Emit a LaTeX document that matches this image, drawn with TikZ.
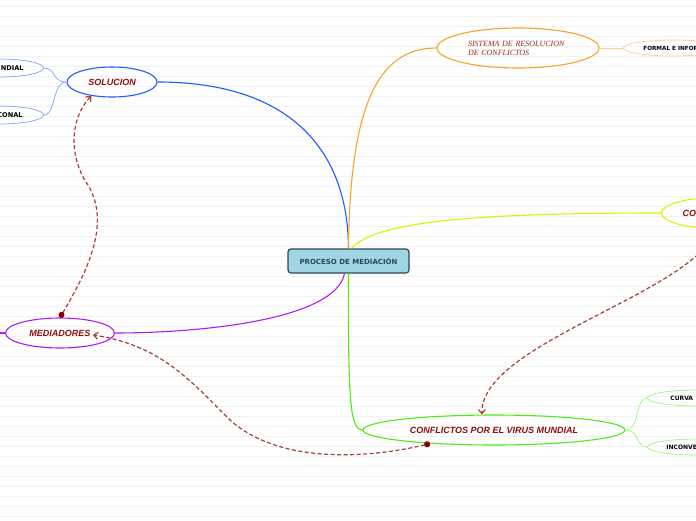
\documentclass[tikz,border=0pt]{standalone}
\usepackage{fontspec}
\setmainfont{Liberation Sans}
\newfontfamily\dejavu{DejaVu Sans}
\newfontfamily\timesit{Liberation Serif}
\usetikzlibrary{shapes.geometric,arrows.meta,calc}
\definecolor{cblue}{RGB}{30,90,255}
\definecolor{corange}{RGB}{245,165,40}
\definecolor{cyellow}{RGB}{214,245,0}
\definecolor{cgreen}{RGB}{80,235,20}
\definecolor{cpurple}{RGB}{170,30,250}
\definecolor{lblue}{RGB}{130,160,255}
\definecolor{lorange}{RGB}{250,210,140}
\definecolor{lgreen}{RGB}{150,250,120}
\definecolor{dred}{RGB}{140,15,15}
\definecolor{sred}{RGB}{150,40,40}
\definecolor{dashc}{RGB}{170,60,60}
\definecolor{dotred}{RGB}{135,0,0}
\definecolor{mainfill}{RGB}{160,214,228}
\definecolor{maindraw}{RGB}{45,70,85}
\definecolor{gridc}{RGB}{242,242,242}
\tikzset{
  mainbox/.style={rectangle, rounded corners=3pt, fill=mainfill, draw=maindraw, line width=1.2pt,
    minimum width=121pt, minimum height=24pt, inner sep=0pt,
    font=\dejavu\bfseries\fontsize{7}{8}\selectfont, text=maindraw},
  mainell/.style={ellipse, draw, line width=1.1pt, inner sep=0pt,
    font=\fontsize{9}{10}\selectfont\bfseries\itshape, text=dred},
  leafell/.style={ellipse, draw, line width=0.7pt, inner sep=0pt, minimum height=16pt,
    font=\dejavu\bfseries\fontsize{6}{7}\selectfont, text=black},
  leftleaf/.style={leafell, draw=lblue, minimum width=90pt, minimum height=18pt, anchor=east,
    font=\dejavu\bfseries\fontsize{6.6}{7}\selectfont},
  branch/.style={line width=1.1pt},
  twig/.style={line width=0.7pt},
  relation/.style={draw=dashc, line width=1.2pt, dash pattern=on 4pt off 2.5pt,
    arrows={Circle[length=6pt,color=dotred]-Straight Barb[length=4pt,width=7pt]}}
}
\begin{document}
\begin{tikzpicture}[x=1pt,y=-1pt]
\useasboundingbox (0,0) rectangle (696,520);
\fill[white] (0,0) rectangle (696,520);
\foreach \yy in {6,16,...,516} \draw[gridc, line width=0.6pt] (0,\yy) -- (696,\yy);

\node[mainbox] (main) at (348.5,261) {PROCESO DE MEDIACIÓN};
\node[mainell, draw=cblue, minimum width=90pt, minimum height=30pt] (sol) at (112,82) {SOLUCION};
\node[mainell, draw=cpurple, minimum width=109pt, minimum height=30pt] (med) at (60,333) {MEDIADORES};
\node[mainell, draw=corange, minimum width=162pt, minimum height=40pt, text=sred,
  font=\timesit\itshape\fontsize{8}{9}\selectfont, align=left, text width=100pt] (sis) at (518,48) {SISTEMA DE RESOLUCION\\DE CONFLICTOS};
\node[mainell, draw=cyellow, minimum width=110pt, minimum height=31pt, anchor=west] (cov) at (661,213) {\makebox[68pt][l]{CO}};
\node[mainell, draw=cgreen, minimum width=262pt, minimum height=30pt] (conf) at (494,430) {CONFLICTOS POR EL VIRUS MUNDIAL};

\node[leafell, draw=lorange, minimum width=100pt, anchor=west, font=\dejavu\bfseries\fontsize{5.7}{7}\selectfont] (form) at (623,48) {\makebox[60pt][l]{FORMAL E INFOR}};
\node[leafell, draw=lgreen, minimum width=100pt, anchor=west] (curva) at (647,398) {\makebox[54pt][l]{CURVA}};
\node[leafell, draw=lgreen, minimum width=100pt, anchor=west] (inc) at (647,447) {\makebox[62pt][l]{INCONVE}};
\node[leftleaf] (mund) at (44,68) {\makebox[50pt][r]{NDIAL}};
\node[leftleaf] (nac) at (44,115) {\makebox[48pt][r]{CONAL}};
\coordinate (medend) at (0,333);

\draw[branch, cblue] (sol.east) .. controls (290,82) and (348,150) .. (main.north);
\draw[branch, corange] (main.north) .. controls (350,105) and (378,48) .. (sis.west);
\draw[branch, cyellow] ($(main.north)+(3,0)$) .. controls (375,222) and (470,213) .. (cov.west);
\draw[branch, cpurple] ($(main.south)+(-4,0)$) .. controls (335,320) and (200,333) .. (med.east);
\draw[branch, cgreen] (main.south) .. controls (348,400) and (350,430) .. (conf.west);
\draw[branch, cpurple] (med.west) -- (medend);

\draw[twig, lblue] (sol.west) .. controls (52,82) and (56,68) .. (mund.east);
\draw[twig, lblue] (sol.west) .. controls (52,82) and (56,115) .. (nac.east);
\draw[twig, lorange] (sis.east) -- (form.west);
\draw[twig, lgreen] (conf.east) .. controls (640,430) and (635,398) .. (curva.west);
\draw[twig, lgreen] (conf.east) .. controls (640,430) and (635,447) .. (inc.west);

\draw[relation] (cov.south) .. controls (685,295) and (480,345) .. ($(conf.north)+(-12,0)$);
\draw[relation] (med.north) .. controls (85,275) and (112,225) .. (88,185) .. controls (70,160) and (68,120) .. (sol.214);
\draw[relation] (conf.192) .. controls (370,458) and (280,465) .. (230,420) .. controls (190,380) and (160,345) .. ($(med.center)+(33,2)$);
\end{tikzpicture}
\end{document}
